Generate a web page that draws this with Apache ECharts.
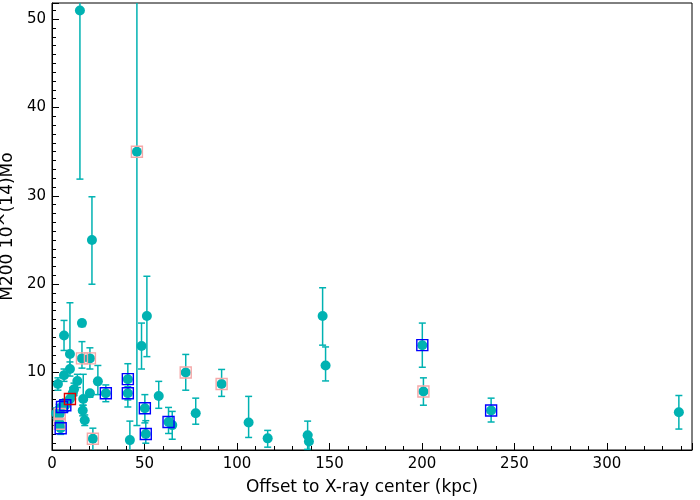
<!DOCTYPE html>
<html>
<head>
<meta charset="utf-8">
<script src="https://cdn.jsdelivr.net/npm/echarts@6/dist/echarts.min.js"></script>
<style>html,body{margin:0;padding:0;background:#fff}#c{width:700px;height:500px}</style>
</head>
<body>
<div id="c"></div>
<script>
// Offset to X-ray center (kpc)
const xVals = [15.1, 45.9, 21.6, 51.3, 146.3, 16.2, 6.5, 48.4, 200.2, 9.7,
  16.2, 20.5, 9.7, 6.5, 3.2, 13.7, 11.9, 11.2, 24.8, 20.5,
  16.9, 29.1, 41.0, 41.0, 9.7, 7.2, 5.4, 3.8, 3.2, 4.7,
  2.2, 16.6, 17.7, 22.1, 50.2, 50.7, 42.1, 57.7, 63.0, 65.0,
  72.3, 77.7, 91.7, 106.3, 116.6, 138.2, 138.9, 147.9, 200.8, 237.4,
  338.9, 4.2, 4.2];
// M200 10^(14) Mo
const yVals = [51.0, 35.0, 25.0, 16.4, 16.4, 15.6, 14.2, 13.0, 13.1, 12.1,
  11.6, 11.6, 10.4, 9.7, 8.7, 9.05, 8.1, 7.65, 9.0, 7.65,
  7.0, 7.65, 9.25, 7.65, 7.0, 6.3, 6.1, 5.8, 4.8, 3.7,
  5.4, 5.7, 4.6, 2.5, 5.95, 3.05, 2.35, 7.35, 4.4, 4.05,
  10.0, 5.4, 8.7, 4.35, 2.55, 2.9, 2.2, 10.8, 7.85, 5.7,
  5.5, 5.3, 4.2];
const yLow = [31.9, 4.0, 20.0, 11.8, 13.1, 15.2, 12.5, 10.4, 10.6, 10.5,
  10.5, 10.4, 9.6, 9.0, 8.0, 8.3, 7.4, 7.0, 7.5, 7.2,
  6.3, 6.7, 6.1, 6.9, 6.4, 5.6, 5.4, 5.2, 4.2, 3.0,
  4.8, 5.1, 4.0, 1.0, 4.3, 2.0, 0.8, 5.95, 3.1, 2.45,
  8.0, 4.15, 7.3, 2.65, 1.55, 1.3, 1.0, 9.05, 6.3, 4.4,
  3.6, 4.7, 3.6];
const yHigh = [60.0, 70.0, 29.9, 20.9, 19.6, 15.9, 15.9, 15.6, 15.6, 17.9,
  13.5, 12.8, 11.2, 10.4, 9.4, 9.8, 8.8, 8.3, 10.8, 7.9,
  9.8, 8.6, 11.0, 8.4, 7.6, 7.0, 6.8, 6.4, 5.4, 4.4,
  6.0, 6.3, 5.2, 3.7, 7.5, 4.55, 4.5, 9.0, 6.05, 5.6,
  12.05, 7.1, 10.35, 7.3, 3.45, 4.5, 3.0, 12.9, 9.4, 7.1,
  7.4, 5.9, 4.8];
// marker square around point: '' none, 'pink', 'blue', 'red'
const marks = ['', 'pink', '', '', '', '', '', '', 'blue', '',
  'pink', 'pink', '', '', '', '', '', '', '', '',
  '', 'blue', 'blue', 'blue', 'red', 'blue', 'blue', '', '', 'blue',
  '', '', '', 'pink', 'blue', 'blue', '', '', 'blue', '',
  'pink', '', 'pink', '', '', '', '', '', 'pink', 'blue',
  '', 'pink', 'pink'];
const xTicks = [0, 50, 100, 150, 200, 250, 300];
const yTicks = [10, 20, 30, 40, 50];

const TEAL = '#00b2b2';
const markColors = {pink: '#f5a8a8', blue: '#0000ff', red: '#e00000'};

const pts = xVals.map((x, i) => [x, yVals[i]]);
const errs = xVals.map((x, i) => [x, yLow[i], yHigh[i]]);

function errRender(params, api) {
  const x = api.value(0), lo = api.value(1), hi = api.value(2);
  const cs = params.coordSys;
  const pLo = api.coord([x, lo]);
  const pHi = api.coord([x, hi]);
  const top = cs.y, bot = cs.y + cs.height;
  const y1 = Math.max(top, Math.min(bot, pHi[1]));
  const y2 = Math.max(top, Math.min(bot, pLo[1]));
  const style = {stroke: TEAL, lineWidth: 1.5};
  const children = [{type: 'line', shape: {x1: pLo[0], y1: y1, x2: pLo[0], y2: y2}, style: style}];
  const cw = 3.5;
  if (pHi[1] >= top && pHi[1] <= bot) children.push({type: 'line', shape: {x1: pHi[0] - cw, y1: pHi[1], x2: pHi[0] + cw, y2: pHi[1]}, style: style});
  if (pLo[1] >= top && pLo[1] <= bot) children.push({type: 'line', shape: {x1: pLo[0] - cw, y1: pLo[1], x2: pLo[0] + cw, y2: pLo[1]}, style: style});
  return {type: 'group', children: children};
}

const squareSeries = Object.keys(markColors).map(k => ({
  type: 'scatter',
  symbol: 'rect',
  symbolSize: 11,
  silent: true,
  z: 5,
  itemStyle: {color: 'rgba(0,0,0,0)', borderColor: markColors[k], borderWidth: 1.4, opacity: 1},
  data: pts.filter((p, i) => marks[i] === k)
}));

const FONT = 'DejaVu Sans';
const chart = echarts.init(document.getElementById('c'), null, {renderer: 'canvas'});
chart.setOption({
  animation: false,
  backgroundColor: '#fff',
  grid: {left: 52, right: 8, top: 3, bottom: 50, containLabel: false, outerBoundsMode: 'none',
    show: true, borderColor: '#000', borderWidth: 1, backgroundColor: 'transparent'},
  xAxis: {
    type: 'value', min: 0, max: 346, splitNumber: 7,
    name: 'Offset to X-ray center (kpc)', nameLocation: 'middle', nameGap: 29,
    nameTextStyle: {fontFamily: FONT, fontSize: 17, color: '#000', padding: [0, 20, 0, 0]},
    axisLine: {lineStyle: {color: '#000', width: 1}},
    axisTick: {inside: true, length: 7, lineStyle: {color: '#000'}},
    minorTick: {show: true, splitNumber: 5, length: 4, lineStyle: {color: '#000'}},
    splitLine: {show: false},
    axisLabel: {fontFamily: FONT, fontSize: 15, color: '#000', margin: 7, showMaxLabel: false,
      formatter: v => xTicks.indexOf(v) >= 0 ? String(v) : ''}
  },
  yAxis: {
    type: 'value', min: 1.23, max: 51.84, splitNumber: 5,
    name: 'M200 10^(14)Mo', nameLocation: 'middle', nameGap: 31,
    nameTextStyle: {fontFamily: FONT, fontSize: 17, color: '#000'},
    axisLine: {lineStyle: {color: '#000', width: 1}},
    axisTick: {inside: true, length: 7, lineStyle: {color: '#000'}},
    minorTick: {show: true, splitNumber: 10, length: 4, lineStyle: {color: '#000'}},
    splitLine: {show: false},
    axisLabel: {fontFamily: FONT, fontSize: 15, color: '#000', margin: 6, showMinLabel: false, showMaxLabel: false,
      formatter: v => yTicks.indexOf(v) >= 0 ? String(v) : ''}
  },
  series: [
    {type: 'custom', renderItem: errRender, data: errs, encode: {x: 0, y: [1, 2]}, z: 2, silent: true},
    {type: 'scatter', symbol: 'circle', symbolSize: 10, itemStyle: {color: TEAL, opacity: 1}, data: pts, z: 3, silent: true}
  ].concat(squareSeries)
});
</script>
</body>
</html>
